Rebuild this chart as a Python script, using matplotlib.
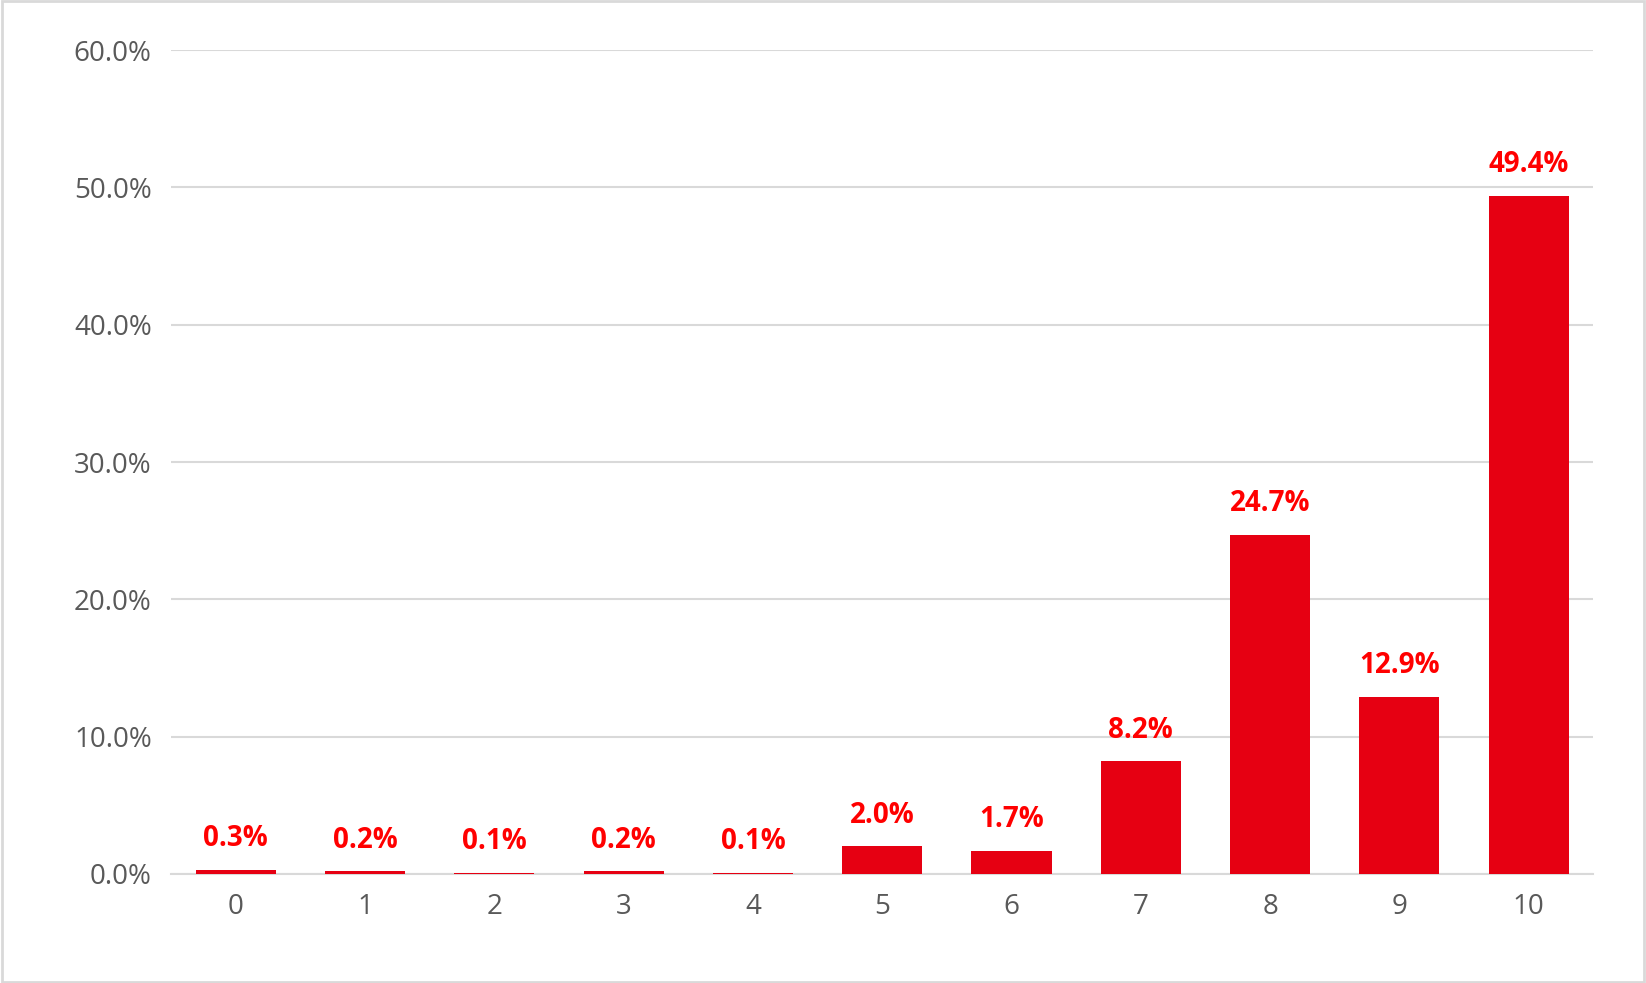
import matplotlib.pyplot as plt
from matplotlib.ticker import FuncFormatter

categories = ["0", "1", "2", "3", "4", "5", "6", "7", "8", "9", "10"]
values = [0.3, 0.2, 0.1, 0.2, 0.1, 2.0, 1.7, 8.2, 24.7, 12.9, 49.4]

plt.rcParams['font.family'] = ['Open Sans', 'DejaVu Sans']

fig = plt.figure(figsize=(16.46, 9.83), dpi=100)
ax = fig.add_axes([0.104, 0.111, 0.864, 0.838])

x = range(len(categories))
ax.bar(x, values, width=0.62, color='#E60012', zorder=3)
for xi, v in zip(x, values):
    ax.text(xi, v + 1.2, "{:.1f}%".format(v), ha='center', va='bottom',
            color='#FF0000', fontsize=20, fontweight='bold')

ax.set_xticks(list(x))
ax.set_xticklabels(categories)
ax.set_ylim(0, 60)
ax.set_xlim(-0.5, len(categories) - 0.5)
ax.set_yticks([0, 10, 20, 30, 40, 50, 60])
ax.yaxis.set_major_formatter(FuncFormatter(lambda v, p: "{:.1f}%".format(v)))
ax.tick_params(length=0, labelsize=20, labelcolor='#595959', pad=14)
ax.grid(axis='y', color='#D9D9D9', linewidth=1.5, zorder=0)
for s in ['top', 'right', 'left']:
    ax.spines[s].set_visible(False)
ax.spines['bottom'].set_color('#D9D9D9')
ax.spines['bottom'].set_linewidth(1.5)

fig.patches.append(plt.Rectangle((0.001, 0.001), 0.998, 0.998, transform=fig.transFigure,
                                 fill=False, edgecolor='#D9D9D9', linewidth=2))

fig.savefig("out.png", dpi=100)
